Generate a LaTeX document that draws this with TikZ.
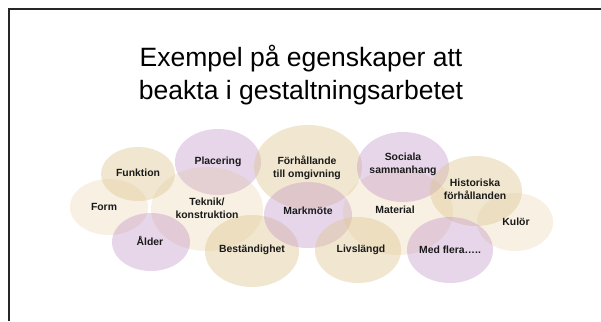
\documentclass[tikz,border=0pt]{standalone}
\usepackage{fontspec}
\setmainfont{Liberation Sans}
\usetikzlibrary{shapes.geometric}
\definecolor{beige}{RGB}{222,196,140}
\definecolor{lila}{RGB}{190,140,195}
\definecolor{txt}{RGB}{26,26,26}
\tikzset{
  blob/.style={ellipse, inner sep=0pt, draw=none},
  tan/.style={blob, fill=beige, fill opacity=0.40},
  lighttan/.style={blob, fill=beige, fill opacity=0.24},
  purple/.style={blob, fill=lila, fill opacity=0.36},
  lbl/.style={text=txt, align=center, inner sep=0pt,
    font=\bfseries\fontsize{10.4bp}{13bp}\selectfont},
  ttl/.style={anchor=base, inner sep=0pt, text=black,
    font=\fontsize{26.5bp}{33bp}\selectfont}
}
\newcommand{\blob}[6]{\node[#1, minimum width=#4bp, minimum height=#5bp] (#6) at (#2,#3) {};}
\begin{document}
\begin{tikzpicture}[x=1bp,y=-1bp]
\useasboundingbox (0,0) rectangle (601,321);
\fill[white] (0,0) rectangle (601,321);
\draw[line width=1.4bp, black!85] (9,321) -- (9,9) -- (601,9);
\node[ttl] (t1) at (301,66) {Exempel på egenskaper att};
\node[ttl] (t2) at (301,99) {beakta i gestaltningsarbetet};
% ellipses
\blob{lighttan}{109}{207}{78}{56}{eform}
\blob{tan}{138}{174}{74}{54}{efunk}
\blob{purple}{218}{162}{86}{66}{eplac}
\blob{lighttan}{207}{209}{112}{84}{etek}
\blob{purple}{151}{242}{78}{58}{eald}
\blob{tan}{252}{251}{94}{72}{ebest}
\blob{tan}{308}{167}{108}{84}{efor}
\blob{purple}{308}{215}{88}{66}{emark}
\blob{lighttan}{398}{212}{110}{86}{emat}
\blob{purple}{403}{167}{92}{70}{esoc}
\blob{tan}{476}{191}{92}{70}{ehist}
\blob{lighttan}{515}{222}{76}{58}{ekul}
\blob{tan}{358}{250}{86}{66}{eliv}
\blob{purple}{450}{250}{86}{66}{emed}
% labels
\node[lbl] (lform) at (104,207) {Form};
\node[lbl] (lfunk) at (138,173) {Funktion};
\node[lbl] (lplac) at (218,162) {Placering};
\node[lbl] (ltek) at (207,208) {Teknik/\\konstruktion};
\node[lbl] (lald) at (150,241) {Ålder};
\node[lbl] (lbest) at (252,250) {Beständighet};
\node[lbl] (lfor) at (307,168) {Förhållande\\till omgivning};
\node[lbl] (lmark) at (308,211) {Markmöte};
\node[lbl] (lmat) at (395,210) {Material};
\node[lbl] (lsoc) at (403,164) {Sociala\\sammanhang};
\node[lbl] (lhist) at (475,189) {Historiska\\förhållanden};
\node[lbl] (lkul) at (516,222) {Kulör};
\node[lbl] (lliv) at (361,250) {Livslängd};
\node[lbl] (lmed) at (450,250) {Med flera…..};
\end{tikzpicture}
\end{document}
